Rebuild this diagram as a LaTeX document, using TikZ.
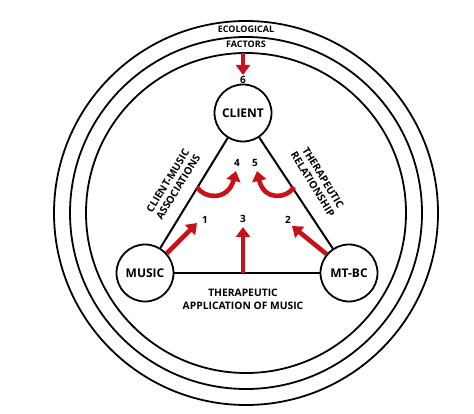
\documentclass[tikz,border=0pt]{standalone}
\usepackage{fontspec}
\setmainfont{Open Sans}
\usetikzlibrary{arrows.meta}
\definecolor{arrred}{RGB}{200,18,24}
\begin{document}
\begin{tikzpicture}[x=1pt,y=-1pt,
  ring/.style={draw=black,line width=1.8pt},
  actor/.style={circle,draw=black,line width=1.8pt,fill=white,minimum size=57pt,inner sep=0pt,font=\bfseries\fontsize{12}{13}\selectfont},
  edge/.style={draw=black,line width=2pt},
  lbl/.style={font=\bfseries\fontsize{10.3}{12}\selectfont,align=center,inner sep=0pt},
  num/.style={font=\bfseries\fontsize{10}{11}\selectfont,inner sep=0pt},
  redarr/.style={draw=arrred,line width=4.6pt,-{Triangle[length=10pt,width=14pt]}}]
\useasboundingbox (0,0) rectangle (474,414);
% rings
\coordinate (ctr) at (246,213);
\draw[ring] (ctr) circle[radius=192];
\draw[ring] (ctr) circle[radius=176];
\draw[ring] (ctr) circle[radius=160];
\node[lbl,font=\bfseries\fontsize{9}{10}\selectfont] (eco) at (246,29) {ECOLOGICAL};
\node[lbl,font=\bfseries\fontsize{9}{10}\selectfont] (fac) at (246,44) {FACTORS};
% actors
\node[actor] (client) at (243,113) {CLIENT};
\node[actor] (music) at (145,273) {MUSIC};
\node[actor] (mtbc) at (349,273) {MT-BC};
\draw[edge] (client) -- (music);
\draw[edge] (client) -- (mtbc);
\draw[edge] (music) -- (mtbc);
% edge labels
\node[lbl,rotate=58.5] (cma) at (173,184) {CLIENT-MUSIC\\ASSOCIATIONS};
\node[lbl,rotate=-58.5] (trel) at (318,181) {THERAPEUTIC\\RELATIONSHIP};
\node[lbl,font=\bfseries\fontsize{10.3}{13}\selectfont] (tam) at (243,299) {THERAPEUTIC\\APPLICATION OF MUSIC};
% numbers
\node[num] (n1) at (205,220) {1};
\node[num] (n2) at (288,220) {2};
\node[num] (n3) at (243,219) {3};
\node[num] (n4) at (237,163) {4};
\node[num] (n5) at (255,163) {5};
\node[num] (n6) at (243,80) {6};
% arrow anchors
\coordinate (t1) at (197,223);
\coordinate (t2) at (292,226);
\coordinate (b3) at (243,273);
\coordinate (t3) at (243,227);
\coordinate (s4) at (197,187);
\coordinate (t4) at (236,171);
\coordinate (s5) at (294,187);
\coordinate (t5) at (257,171);
\coordinate (s6) at (243,53);
\coordinate (t6) at (243,75);
% red arrows
\draw[redarr] (music.42) -- (t1);
\draw[redarr] (mtbc.140) -- (t2);
\draw[redarr] (b3) -- (t3);
\draw[redarr] (s4) .. controls (204,199) and (228,201) .. (t4);
\draw[redarr] (s5) .. controls (287,199) and (264,201) .. (t5);
\draw[redarr] (s6) -- (t6);
\end{tikzpicture}
\end{document}
